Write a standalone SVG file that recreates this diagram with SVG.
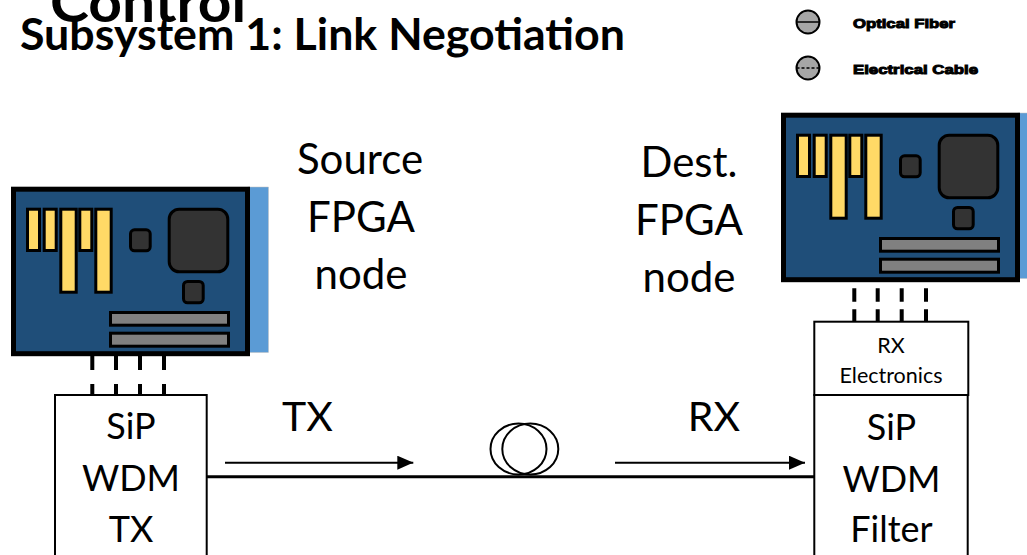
<svg xmlns="http://www.w3.org/2000/svg" xmlns:xlink="http://www.w3.org/1999/xlink" width="1027" height="555" viewBox="0 0 1027 555">
  <style>
    .lbl { font-family: Lato, "Open Sans", "Liberation Sans", sans-serif; fill: #000; text-anchor: middle; }
    .big { font-size: 36px; }
    .node { font-size: 42px; }
    .link { font-size: 41px; }
    .small { font-size: 21.5px; }
    .title { font-family: Lato, "Open Sans", "Liberation Sans", sans-serif; font-weight: bold; fill: #000; }
    .legend { font-family: "Liberation Sans", Arial, sans-serif; font-weight: bold; font-size: 13.5px; fill: #000; stroke: #000; stroke-width: 1px; }
    .box { fill: #fff; stroke: #000; stroke-width: 2; }
    .pcb { fill: #1F4E79; stroke: #000; stroke-width: 5; }
    .edge { fill: #5B9BD5; stroke: #bfbfbf; stroke-width: 0.5; }
    .slot { fill: #FFD966; stroke: #000; stroke-width: 3; }
    .chip { fill: #333333; stroke: #000; stroke-width: 3; }
    .bar { fill: #808080; stroke: #000; stroke-width: 3; }
    .bus { stroke: #000; stroke-width: 4; fill: none; }
    .fiber { stroke: #000; stroke-width: 3; fill: none; }
    .coil { stroke: #000; stroke-width: 2; fill: none; }
    .dir { stroke: #000; stroke-width: 2; fill: none; }
    .sym { fill: #A6A6A6; stroke: #000; stroke-width: 2; }
  </style>
  <defs>
    <marker id="head" markerUnits="userSpaceOnUse" markerWidth="16" markerHeight="14" refX="16" refY="7" orient="auto">
      <path d="M0,0 L16,7 L0,14 Z" fill="#000"/>
    </marker>
    <!-- FPGA board drawn at its left-hand position -->
    <g id="fpga-board">
      <rect class="edge" x="248" y="187" width="20.5" height="165.5"/>
      <rect class="pcb" x="13.5" y="189.2" width="234" height="164.5"/>
      <rect class="slot" x="27.5" y="209.2" width="12" height="41.3"/>
      <rect class="slot" x="44.2" y="209.2" width="12" height="41.3"/>
      <rect class="slot" x="60.8" y="209.2" width="15.4" height="83"/>
      <rect class="slot" x="79.8" y="209.2" width="12" height="41.3"/>
      <rect class="slot" x="95.8" y="209.2" width="15.4" height="83"/>
      <rect class="chip" x="130.5" y="229.8" width="19.7" height="21" rx="4"/>
      <rect class="chip" x="169.2" y="209.2" width="58.6" height="62.6" rx="10"/>
      <rect class="chip" x="183.5" y="281.5" width="19.7" height="21.3" rx="4"/>
      <rect class="bar" x="110.5" y="312.5" width="118" height="12.7"/>
      <rect class="bar" x="110.5" y="333.2" width="118" height="13"/>
    </g>
  </defs>

  <!-- headings -->
  <g id="title">
    <text class="title" x="50" y="22" font-size="56" textLength="196" lengthAdjust="spacingAndGlyphs">Control</text>
    <text class="title" x="20" y="50" font-size="44.5" textLength="605" lengthAdjust="spacingAndGlyphs">Subsystem 1: Link Negotiation</text>
  </g>

  <!-- legend -->
  <g id="legend">
    <circle class="sym" cx="808" cy="22" r="11.5"/>
    <line x1="796.5" y1="22" x2="819.5" y2="22" stroke="#000" stroke-width="1.5"/>
    <text class="legend" x="853" y="27.5" textLength="102" lengthAdjust="spacingAndGlyphs">Optical Fiber</text>
    <circle class="sym" cx="808" cy="68" r="11.5"/>
    <line x1="796.5" y1="68" x2="819.5" y2="68" stroke="#000" stroke-width="1.5" stroke-dasharray="3 2"/>
    <text class="legend" x="853" y="73.5" textLength="125" lengthAdjust="spacingAndGlyphs">Electrical Cable</text>
  </g>

  <!-- source side -->
  <g id="source-fpga">
    <use xlink:href="#fpga-board"/>
  </g>
  <g id="source-label">
    <text class="lbl node" x="360" y="174">Source</text>
    <text class="lbl node" x="361" y="231.5">FPGA</text>
    <text class="lbl node" x="361" y="288.5">node</text>
  </g>
  <g id="sip-tx">
    <rect class="box" x="55" y="395" width="151.7" height="200"/>
    <text class="lbl big" x="131" y="439">SiP</text>
    <text class="lbl big" x="131" y="491">WDM</text>
    <text class="lbl big" x="131" y="541.5">TX</text>
  </g>

  <!-- destination side -->
  <g id="dest-fpga">
    <use xlink:href="#fpga-board" transform="translate(770,-74)"/>
  </g>
  <g id="dest-label">
    <text class="lbl node" x="689" y="176.5">Dest.</text>
    <text class="lbl node" x="689" y="234.5">FPGA</text>
    <text class="lbl node" x="689" y="291.5">node</text>
  </g>
  <g id="rx-electronics">
    <rect class="box" x="814.3" y="321.7" width="154" height="73.3"/>
    <text class="lbl small" x="891" y="353">RX</text>
    <text class="lbl small" x="891" y="383">Electronics</text>
  </g>
  <g id="sip-filter">
    <rect class="box" x="814.3" y="395" width="153.4" height="200"/>
    <text class="lbl big" x="891.5" y="440">SiP</text>
    <text class="lbl big" x="891.5" y="491.5">WDM</text>
    <text class="lbl big" x="891.5" y="541.5">Filter</text>
  </g>

  <!-- fiber spool -->
  <g id="spool">
    <ellipse class="coil" cx="518.5" cy="449" rx="28" ry="25.5"/>
    <ellipse class="coil" cx="530.3" cy="449" rx="28" ry="25.5"/>
  </g>

  <!-- connectors -->
  <g id="connectors">
    <line class="bus" x1="92.3" y1="356" x2="92.3" y2="395" stroke-dasharray="14 14"/>
    <line class="bus" x1="116" y1="356" x2="116" y2="395" stroke-dasharray="14 14"/>
    <line class="bus" x1="140" y1="356" x2="140" y2="395" stroke-dasharray="14 14"/>
    <line class="bus" x1="164" y1="356" x2="164" y2="395" stroke-dasharray="14 14"/>
    <line class="bus" x1="854.3" y1="288.3" x2="854.3" y2="321.7" stroke-dasharray="13.4 7.6"/>
    <line class="bus" x1="877.7" y1="288.3" x2="877.7" y2="321.7" stroke-dasharray="13.4 7.6"/>
    <line class="bus" x1="901.7" y1="288.3" x2="901.7" y2="321.7" stroke-dasharray="13.4 7.6"/>
    <line class="bus" x1="926" y1="288.3" x2="926" y2="321.7" stroke-dasharray="13.4 7.6"/>
    <line class="fiber" x1="206.7" y1="476.7" x2="814.3" y2="476.7"/>
    <line class="dir" x1="225" y1="462.7" x2="413.3" y2="462.7" marker-end="url(#head)"/>
    <line class="dir" x1="615" y1="462.7" x2="805" y2="462.7" marker-end="url(#head)"/>
  </g>

  <g id="link-labels">
    <text class="lbl link" x="307.5" y="431">TX</text>
    <text class="lbl link" x="714" y="431">RX</text>
  </g>
</svg>
